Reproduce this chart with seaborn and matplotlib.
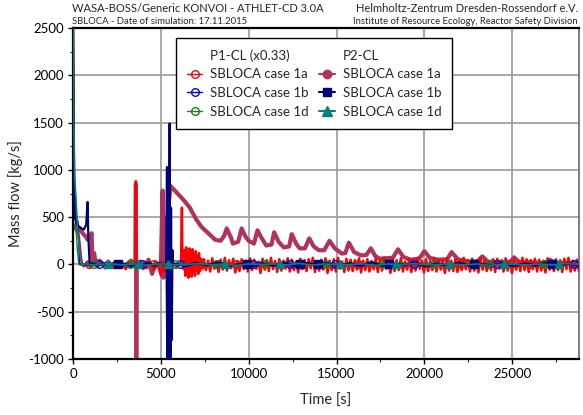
import numpy as np
import pandas as pd
import matplotlib
matplotlib.use("Agg")
import matplotlib.pyplot as plt
import seaborn as sns
from matplotlib.lines import Line2D
from matplotlib.ticker import MultipleLocator

# ------------------------------------------------------------------ data
# P2-CL, SBLOCA case 1a (maroon)
maroon_t = [0, 100, 250, 400, 550, 700, 850, 1000, 1060, 1100,
            1200, 1300, 1500, 1800, 2000, 2300, 2600, 3000, 3300, 3550,
            3580, 3600, 3620, 3800, 4000, 4300, 4500, 4700, 5000, 5100,
            5150, 5200, 5250, 5350, 5450, 5550, 5700, 6000, 6300, 6650,
            7000, 7300, 7700, 8100, 8400, 8600, 8750, 9000, 9100, 9400,
            9600, 9800, 10000, 10300, 10500, 10700, 11000, 11300, 11450, 11700,
            12000, 12300, 12450, 12700, 12900, 13200, 13450, 13700, 14000, 14300,
            14600, 14900, 15300, 15500, 15700, 16000, 16400, 16700, 16950, 17200,
            17450, 18200, 18500, 18800, 19200, 19700, 20000, 20300, 20800, 21300,
            21550, 21900, 22500, 23000, 23300, 23600, 24300, 24900, 25100, 25400,
            26500, 27000, 27150, 27400, 28000, 28800]
maroon_v = [420, 400, 350, 380, 330, 300, 260, 300, 330, 60,
            120, 0, 40, -20, 30, -30, 20, -10, 40, -20,
            850, -1100, 0, 30, -40, 50, -100, 20, -30, 780,
            -140, 500, 50, 0, 650, 830, 800, 740, 680, 600,
            480, 400, 330, 260, 250, 300, 380, 280, 220, 240,
            380, 300, 250, 220, 360, 290, 200, 210, 340, 240,
            180, 190, 320, 220, 170, 170, 275, 190, 150, 150,
            250, 170, 115, 120, 230, 130, 95, 100, 170, 90,
            60, 70, 160, 80, 50, 60, 140, 70, 50, 55,
            130, 55, 30, 30, 85, 30, 25, 25, 75, 25,
            15, 20, 50, 15, 15, 20]

# P1-CL, SBLOCA case 1a (red)
red_head_t = [0, 60, 150, 250, 350, 450, 520, 600, 800, 1000,
              1200, 1400, 1600, 1800, 2000, 2200, 2400, 2600, 2800, 3000,
              3200, 3400, 3560, 3580, 3600, 3800, 4000, 4200, 4400, 4600,
              4800, 5000, 5100, 5200, 5300, 5500, 5700, 5900, 6150, 6200,
              6230, 6300]
red_head_v = [2600, 900, 560, 420, 260, 80, 0, -20, 25, -30,
              15, -25, 20, -40, 10, -20, 30, -30, 10, -50,
              20, -20, 0, 880, 0, -30, 20, -40, 30, -60,
              20, -120, 30, -80, 20, -20, 10, -30, 0, 600,
              0, -50]
red_burst_v = [150, -120, 180, -90, 120, -140, 170, -100, 90, -130,
               160, -80, 110, -120, 140, -60, 80, -100, 120, -70,
               60, -50, 50, -40]
red_band_v = [55, -60, 40, -75, 65, -45, 30, -80, 50, -55,
              70, -65, 45, -40, 60, -85, 35, -70, 55, -50,
              40, -75, 65, -60, 50, -45, 30, -90, 60, -55,
              45, -70, 70, -50, 35, -80, 55, -65, 40, -45,
              65, -75, 50, -60, 30, -85, 60, -50, 45, -70,
              55, -40, 70, -80, 35, -65, 50, -55, 65, -90,
              40, -60, 55, -75, 70, -45, 30, -80, 60, -65,
              50, -70, 45, -55, 65, -85, 40, -60, 55, -75,
              35, -50, 60, -80, 50, -65, 70, -45, 40, -90,
              55, -70, 45, -60, 65, -75, 30, -55, 60, -80,
              50, -65, 70, -45, 40, -85, 55, -70, 35, -60,
              65, -75, 50, -55, 45, -90, 60, -65, 40, -70,
              55, -80, 35, -60, 70, -50, 45, -75, 60, -65,
              40, -85, 65, -55, 50, -70, 30, -60, 55, -80,
              60, -45, 45, -75, 65, -65, 40, -90, 50, -55,
              35, -70, 70, -60, 55, -80, 45, -50, 60, -75,
              50, -65, 40, -85, 65, -55, 30, -70, 55, -60,
              45, -80, 60, -50, 70, -75, 40, -65, 50, -70]

# P1-CL, SBLOCA case 1b (blue)
blue_head_t = [0, 40, 100, 180, 280, 330, 370]
blue_head_v = [2700, 1200, 700, 520, 450, 200, 0]
blue_mid_v = [10, -15, 5, -10, 20, -5, 10, -20, 15, -10, 5, -15, 10, -5, 20, -10]
blue_spike_t = [5300, 5350, 5380, 5450, 5520, 5580, 5620]
blue_spike_v = [0, -1100, 300, -300, 100, -950, 0]
blue_tail_v = [10, -15, 20, -5, 15, -20, 10, -10, 25, -15, 5, -20, 15, -10, 20, -5,
               10, -25, 15, -10, 5, -15, 20, -10, 10, -20, 15, -5, 10, -15, 20, -10,
               5, -20, 15, -10, 10, -5]

# P1-CL, SBLOCA case 1d (green)
green_head_t = [0, 40, 100, 160, 250, 330]
green_head_v = [2500, 1300, 700, 400, 150, 0]
green_mid_v = [-10, 15, -20, 10, -5, 20, -15, 5, -10, 15, -20, 10, -5, 15, -10, 5]
green_tail_v = [-10, 15, -5, 20, -15, 10, -20, 5, -10, 15, -5, 20, -10, 10, -15, 5,
                -20, 10, -5, 15, -10, 20, -5, 10, -15, 5, -10, 20, -15, 10, -5, 15,
                -10, 5, -20, 10, -5, 10]

# P2-CL, SBLOCA case 1b (navy)
navy_head_t = [0, 50, 100, 200, 350, 500, 620, 750, 830, 870, 950]
navy_head_v = [2700, 1000, 500, 430, 400, 380, 370, 420, 660, 300, 0]
navy_mid_v = [15, -20, 10, -15, 20, -10, 5, -25, 15, -10, 20, -15, 10, -5]
navy_spike_t = [5300, 5350, 5380, 5420, 5460, 5500, 5540, 5580, 5620, 5660, 5700]
navy_spike_v = [0, 1030, -1100, 800, -1100, 1490, -1100, 600, -800, 150, 0]
navy_tail_v = [10, -20, 15, -10, 20, -15, 5, -25, 10, -10, 20, -15, 15, -5, 10, -20,
               15, -10, 25, -15, 10, -5, 15, -20, 10, -10, 20, -15, 5, -10, 15, -20,
               10, -5, 20, -15, 10, -10]

# P2-CL, SBLOCA case 1d (teal)
teal_head_t = [0, 40, 100, 170, 250, 400, 500]
teal_head_v = [2700, 1500, 900, 700, 400, 120, 0]
teal_tail_v = [5, -5, 10, -5, 5, -10, 5, 0, -5, 10, -5, 5, -10, 5, 0, 5,
               -5, 10, -5, 5, -5, 0, 5, -10, 5, -5, 10, -5, 0, 5, -5, 5,
               -10, 5, 0, -5, 5, -5, 10, 0]

# marker positions (time) for each series
red_mk_t = [900, 4600, 9300, 16200, 22100, 26000]
blue_mk_t = [1500, 3900, 6100, 8200, 10230, 12330, 14890, 19430, 24150, 28520]
green_mk_t = [1200, 3240, 5800, 8180, 10910, 14380, 17560, 20570, 23690, 26820]
navy_mk_t = [2560, 9890, 12900, 13920, 18010, 22840, 27270]
teal_mk_t = [2000, 3700, 5400, 8640, 11760, 15170, 18400, 21420, 24550, 27670]

x_ticks = [0, 5000, 10000, 15000, 20000, 25000]
y_ticks = [-1000, -500, 0, 500, 1000, 1500, 2000, 2500]

legend_col1 = ["P1-CL (x0.33)", "SBLOCA case 1a", "SBLOCA case 1b", "SBLOCA case 1d"]
legend_col2 = ["P2-CL", "SBLOCA case 1a", "SBLOCA case 1b", "SBLOCA case 1d"]


def seg(t0, t1, vals):
    return list(np.linspace(t0, t1, len(vals))), list(vals)


def build(parts):
    t, v = [], []
    for pt, pv in parts:
        t += list(pt)
        v += list(pv)
    return pd.DataFrame({"t": t, "v": v})


df_maroon = build([(maroon_t, maroon_v)])
df_red = build([(red_head_t, red_head_v), seg(6350, 7400, red_burst_v),
                seg(7450, 28800, red_band_v)])
df_blue = build([(blue_head_t, blue_head_v), seg(500, 5250, blue_mid_v),
                 (blue_spike_t, blue_spike_v), seg(5700, 28800, blue_tail_v)])
df_green = build([(green_head_t, green_head_v), seg(450, 5300, green_mid_v),
                  seg(5400, 28800, green_tail_v)])
df_navy = build([(navy_head_t, navy_head_v), seg(1050, 5250, navy_mid_v),
                 (navy_spike_t, navy_spike_v), seg(5800, 28800, navy_tail_v)])
df_teal = build([(teal_head_t, teal_head_v), seg(600, 28800, teal_tail_v)])

# ------------------------------------------------------------------ style
sns.set_style("ticks")
plt.rcParams["font.family"] = ["Lato", "DejaVu Sans"]

C_RED, C_BLUE, C_GREEN = "#FF0000", "#0000FF", "#1A7F1A"
C_MAROON, C_NAVY, C_TEAL = "#B0325F", "#00007F", "#008080"

fig = plt.figure(figsize=(5.83, 4.15), dpi=100)
ax = fig.add_axes([73 / 583, 1 - 359 / 415, 506 / 583, 331 / 415])

series = [
    (df_maroon, C_MAROON, 3.0, 2),
    (df_red, C_RED, 1.8, 3),
    (df_blue, C_BLUE, 1.0, 4),
    (df_green, C_GREEN, 1.0, 5),
    (df_navy, C_NAVY, 1.6, 6),
    (df_teal, C_TEAL, 1.2, 7),
]
for d, c, lw, z in series:
    sns.lineplot(data=d, x="t", y="v", ax=ax, color=c, lw=lw, zorder=z,
                 estimator=None, sort=False, legend=False)

mk = [
    (red_mk_t, C_RED, "o", "none", 3.2),
    (blue_mk_t, C_BLUE, "o", "none", 4.2),
    (green_mk_t, C_GREEN, "o", "none", 5.2),
    (navy_mk_t, C_NAVY, "s", C_NAVY, 6.2),
    (teal_mk_t, C_TEAL, "^", C_TEAL, 7.2),
]
for tt, c, m, fc, z in mk:
    ax.plot(tt, [0] * len(tt), ls="none", marker=m, ms=5.5 if m == "o" else 6,
            mfc=fc, mec=c, mew=1.0, zorder=z)

ax.set_xlim(0, 28800)
ax.set_ylim(-1000, 2500)
ax.set_xticks(x_ticks)
ax.set_yticks(y_ticks)
ax.set_xticklabels([str(v) for v in x_ticks])
ax.set_yticklabels([str(v) for v in y_ticks])
ax.xaxis.set_minor_locator(MultipleLocator(2500))
ax.yaxis.set_minor_locator(MultipleLocator(250))
ax.tick_params(axis="both", which="major", direction="out", length=3.5,
               width=1, labelsize=9.5, colors="black", pad=3)
ax.tick_params(axis="both", which="minor", direction="out", length=2.5, width=0.8)
ax.grid(True, which="major", color="#9a9a9a", lw=1.2)
for s in ["left", "bottom", "top"]:
    ax.spines[s].set_color("black")
    ax.spines[s].set_linewidth(1.6)
ax.spines["right"].set_color("#666666")
ax.spines["right"].set_linewidth(1.2)
ax.set_xlabel("Time [s]", fontsize=10.5, labelpad=10)
ax.set_ylabel("Mass flow [kg/s]", fontsize=10.5, labelpad=4)

# legend
blank = Line2D([], [], color="none")
h_red = Line2D([], [], color=C_RED, marker="o", mfc="none", ms=5.5, lw=1)
h_blue = Line2D([], [], color=C_BLUE, marker="o", mfc="none", ms=5.5, lw=1)
h_green = Line2D([], [], color=C_GREEN, marker="o", mfc="none", ms=5.5, lw=1)
h_mar = Line2D([], [], color=C_MAROON, marker="o", ms=6, lw=1.5)
h_navy = Line2D([], [], color=C_NAVY, marker="s", ms=5.5, lw=1.5)
h_teal = Line2D([], [], color=C_TEAL, marker="^", ms=6.5, lw=1.5)
handles = [blank, h_red, h_blue, h_green, blank, h_mar, h_navy, h_teal]
labels = legend_col1 + legend_col2
leg = ax.legend(handles, labels, ncol=2, loc="upper left",
                bbox_to_anchor=((176 - 73) / 506, 1 - (38 - 28) / 331),
                borderaxespad=0, frameon=True, fancybox=False, fontsize=9.5,
                handlelength=1.15, handletextpad=0.6, columnspacing=0.8,
                labelspacing=0.5, borderpad=0.85)
leg.get_frame().set_edgecolor("black")
leg.get_frame().set_linewidth(1.0)
leg.get_frame().set_alpha(1)
leg.set_zorder(20)

# header texts
fig.text(72 / 583, 1 - 9 / 415, "WASA-BOSS/Generic KONVOI - ATHLET-CD 3.0A",
         fontsize=8, ha="left", va="center")
fig.text(72 / 583, 1 - 21 / 415, "SBLOCA - Date of simulation: 17.11.2015",
         fontsize=6.8, ha="left", va="center")
fig.text(578 / 583, 1 - 9 / 415, "Helmholtz-Zentrum Dresden-Rossendorf e.V.",
         fontsize=8, ha="right", va="center")
fig.text(578 / 583, 1 - 21 / 415, "Institute of Resource Ecology, Reactor Safety Division",
         fontsize=6.8, ha="right", va="center")

fig.savefig("out.png", dpi=100)
